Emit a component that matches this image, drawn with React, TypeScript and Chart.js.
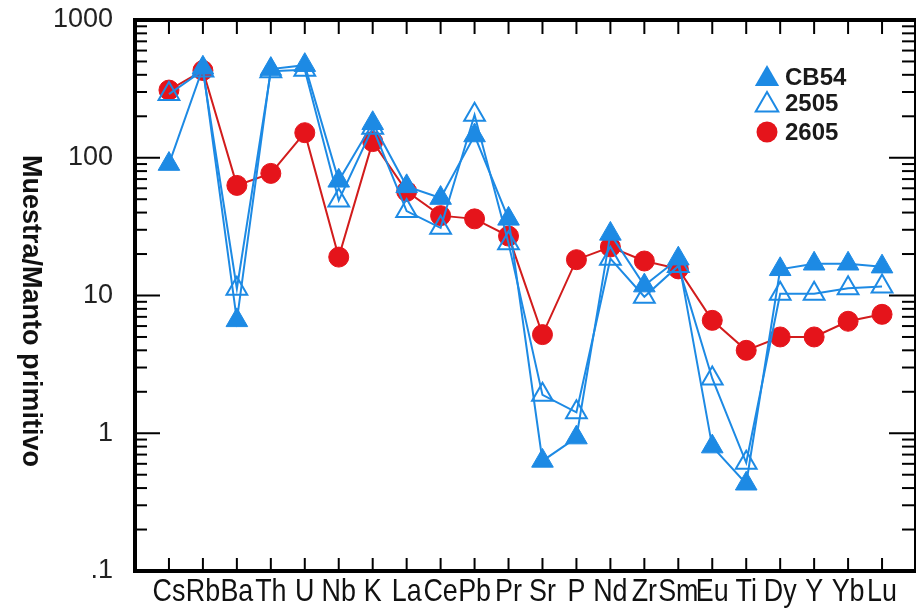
import React, { useEffect, useRef } from 'react';
import { Chart, registerables } from 'chart.js';

Chart.register(...registerables);

const elements = ['Cs', 'Rb', 'Ba', 'Th', 'U', 'Nb', 'K', 'La', 'Ce', 'Pb', 'Pr', 'Sr', 'P', 'Nd', 'Zr', 'Sm', 'Eu', 'Ti', 'Dy', 'Y', 'Yb', 'Lu'];
const cb54 = [90, 450, 6.6, 440, 470, 68, 178, 62, 51, 145, 36, 0.63, 0.93, 28, 11.8, 18.5, 0.8, 0.43, 15.5, 17, 17, 16.2];
const s2505 = [290, 430, 11.2, 425, 435, 49, 165, 41, 31, 205, 24, 1.9, 1.42, 18.5, 9.8, 16.4, 2.5, 0.61, 10.3, 10.3, 11.3, 11.6];
const s2605 = [310, 430, 63, 77, 152, 19, 131, 57, 38, 36, 27, 5.2, 18.2, 22.5, 17.8, 15.6, 6.6, 4.0, 5.0, 5.0, 6.5, 7.3];
const yTicks = [0.1, 1, 10, 100, 1000];
const yTickLabels = ['.1', '1', '10', '100', '1000'];
const seriesNames = ['CB54', '2505', '2605'];
const yTitle = 'Muestra/Manto primitivo';

const BLUE = '#1d8ae4';
const RED = '#e5141b';
const RED_LINE = '#d21c1c';
const SANS = "'Liberation Sans', Arial, sans-serif";

function tri(ctx: CanvasRenderingContext2D, x: number, y: number, r: number) {
  ctx.beginPath();
  for (let k = 0; k < 3; k++) {
    const a = (k * 2 * Math.PI) / 3;
    const px = x + Math.sin(a) * r;
    const py = y - Math.cos(a) * r;
    if (k === 0) ctx.moveTo(px, py);
    else ctx.lineTo(px, py);
  }
  ctx.closePath();
}

const framePlugin = {
  id: 'frameTicks',
  afterDraw(chart: any) {
    const { ctx, chartArea: a, scales } = chart;
    const xs = scales.x;
    const ys = scales.y;
    ctx.save();
    ctx.strokeStyle = '#000';
    ctx.lineCap = 'butt';
    const seg = (x1: number, y1: number, x2: number, y2: number) => {
      ctx.beginPath();
      ctx.moveTo(x1, y1);
      ctx.lineTo(x2, y2);
      ctx.stroke();
    };
    ctx.lineWidth = 2;
    elements.forEach((_, i) => {
      const px = xs.getPixelForValue(i);
      seg(px, a.bottom, px, a.bottom - 13);
      seg(px, a.top, px, a.top + 14);
    });
    for (let e = -1; e <= 3; e++) {
      for (let m = 1; m < 10; m++) {
        const v = m * Math.pow(10, e);
        if (v > 1000.0001) break;
        const py = ys.getPixelForValue(v);
        const major = m === 1;
        seg(a.left, py, a.left + (major ? 25 : 12), py);
        seg(a.right, py, a.right - (major ? 27 : 14), py);
      }
    }
    ctx.lineWidth = 4;
    ctx.beginPath();
    ctx.rect(a.left, a.top, a.right - a.left, a.bottom - a.top);
    ctx.stroke();

    // x category labels (condensed)
    ctx.fillStyle = '#111';
    ctx.font = `32px ${SANS}`;
    ctx.textAlign = 'center';
    ctx.textBaseline = 'alphabetic';
    elements.forEach((name, i) => {
      const px = xs.getPixelForValue(i);
      ctx.save();
      ctx.translate(px, 601);
      ctx.scale(0.84, 1);
      ctx.fillText(name, 0, 0);
      ctx.restore();
    });

    // y axis title
    ctx.save();
    ctx.translate(30, 311);
    ctx.rotate(Math.PI / 2);
    ctx.fillStyle = '#111';
    ctx.font = `bold 27px ${SANS}`;
    ctx.textAlign = 'center';
    ctx.textBaseline = 'middle';
    ctx.fillText(yTitle, 0, 0);
    ctx.restore();

    // legend
    const rows = [77, 103, 132];
    const mx = 767;
    ctx.font = `bold 24px ${SANS}`;
    ctx.textAlign = 'left';
    ctx.textBaseline = 'middle';
    seriesNames.forEach((name, i) => {
      const y = rows[i];
      if (i === 0) {
        tri(ctx, mx, y + 2, 14);
        ctx.fillStyle = BLUE;
        ctx.fill();
      } else if (i === 1) {
        tri(ctx, mx, y + 2, 13);
        ctx.strokeStyle = BLUE;
        ctx.lineWidth = 2;
        ctx.stroke();
      } else {
        ctx.beginPath();
        ctx.arc(mx, y, 10.5, 0, Math.PI * 2);
        ctx.fillStyle = RED;
        ctx.fill();
      }
      ctx.fillStyle = '#1a1a1a';
      ctx.fillText(name, 785, y + 1);
    });
    ctx.restore();
  },
};

export default function App() {
  const ref = useRef<HTMLCanvasElement | null>(null);
  useEffect(() => {
    if (!ref.current) return;
    const toPts = (arr: number[]) => arr.map((v, i) => ({ x: i, y: v }));
    const chart = new Chart(ref.current, {
      type: 'line',
      data: {
        datasets: [
          {
            label: seriesNames[0],
            data: toPts(cb54),
            borderColor: BLUE,
            backgroundColor: BLUE,
            borderWidth: 2,
            pointStyle: 'triangle',
            pointRadius: 12.5,
            pointBorderWidth: 1,
            pointBackgroundColor: BLUE,
            pointBorderColor: BLUE,
            clip: false,
          },
          {
            label: seriesNames[1],
            data: toPts(s2505),
            borderColor: BLUE,
            backgroundColor: 'rgba(255,255,255,0)',
            borderWidth: 2,
            pointStyle: 'triangle',
            pointRadius: 12,
            pointBorderWidth: 2,
            pointBackgroundColor: 'rgba(255,255,255,0)',
            pointBorderColor: BLUE,
            clip: false,
          },
          {
            label: seriesNames[2],
            data: toPts(s2605),
            borderColor: RED_LINE,
            backgroundColor: RED,
            borderWidth: 2,
            pointStyle: 'circle',
            pointRadius: 10,
            pointBorderWidth: 1,
            pointBackgroundColor: RED,
            pointBorderColor: RED,
            clip: false,
          },
        ],
      } as any,
      options: {
        animation: false,
        responsive: false,
        devicePixelRatio: 1,
        layout: { padding: { top: 20, right: 9, left: 0, bottom: 0 } },
        plugins: { legend: { display: false }, tooltip: { enabled: false } },
        elements: { line: { tension: 0 } },
        scales: {
          x: {
            type: 'linear',
            min: -1,
            max: 22,
            afterBuildTicks: (s: any) => {
              s.ticks = elements.map((_, i) => ({ value: i }));
            },
            afterFit: (s: any) => {
              s.height = 39;
              s.paddingLeft = 0;
              s.paddingRight = 0;
              s.paddingTop = 0;
              s.paddingBottom = 0;
            },
            grid: { display: false, drawTicks: false },
            border: { display: false },
            ticks: { display: false },
          },
          y: {
            type: 'logarithmic',
            min: 0.1,
            max: 1000,
            afterBuildTicks: (s: any) => {
              s.ticks = yTicks.map((v) => ({ value: v }));
            },
            afterFit: (s: any) => {
              s.width = 135;
              s.paddingTop = 0;
              s.paddingBottom = 0;
              s.paddingLeft = 0;
              s.paddingRight = 0;
            },
            grid: { display: false, drawTicks: false },
            border: { display: false },
            ticks: {
              autoSkip: false,
              padding: 22,
              color: '#222',
              font: { family: SANS, size: 27 },
              callback: (v: any) => {
                const idx = yTicks.findIndex((t) => Math.abs(t - Number(v)) < t * 1e-6);
                return idx >= 0 ? yTickLabels[idx] : '';
              },
            },
          },
        },
      } as any,
      plugins: [framePlugin],
    });
    return () => chart.destroy();
  }, []);
  return (
    <div style={{ position: 'fixed', left: 0, top: 0, width: 916, height: 610, overflow: 'hidden', background: '#fff' }}>
      <canvas ref={ref} width={930} height={610} style={{ display: 'block', width: 930, height: 610 }} />
    </div>
  );
}
